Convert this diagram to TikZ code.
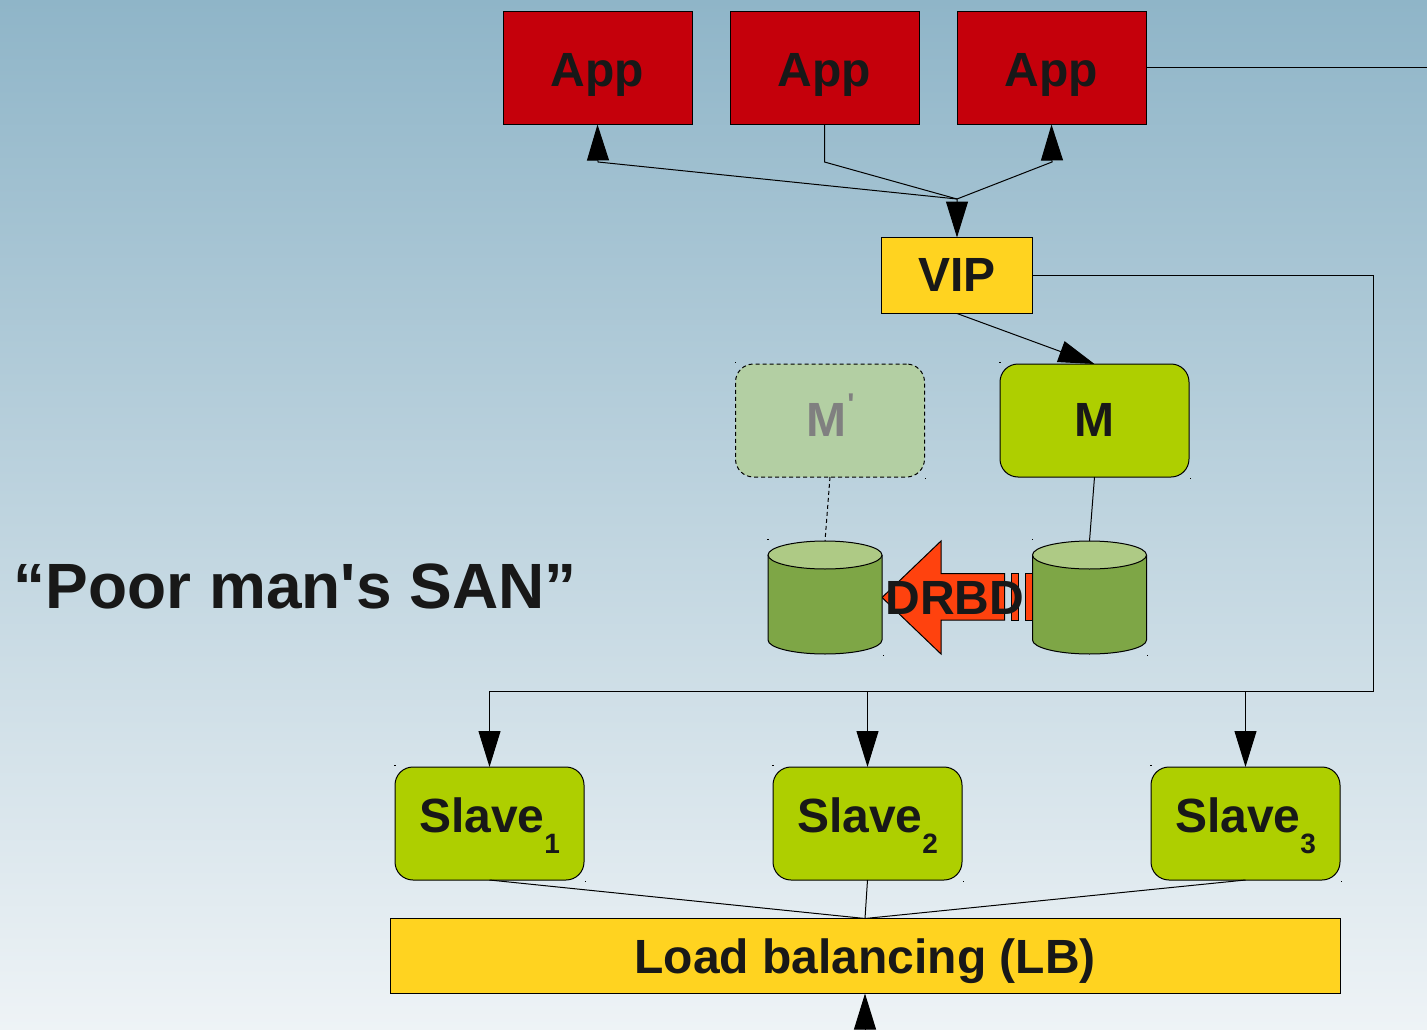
\documentclass[tikz,border=0pt]{standalone}
\usepackage{fontspec}
\usetikzlibrary{arrows.meta}
\newfontfamily\lblfont{Liberation Sans}
\definecolor{bgtop}{HTML}{8FB5C8}
\definecolor{bgbot}{HTML}{EEF3F6}
\definecolor{appred}{HTML}{C5000B}
\definecolor{gold}{HTML}{FFD320}
\definecolor{lime}{HTML}{AECF00}
\definecolor{ghost}{HTML}{B3CFA3}
\definecolor{cylbody}{HTML}{7EA646}
\definecolor{cyltop}{HTML}{AECA85}
\definecolor{flame}{HTML}{FF420E}
\definecolor{ink}{HTML}{181818}
\tikzset{
  x=1pt,y=-1pt,
  lw/.style={line width=1pt,draw=black},
  lbl/.style={font=\lblfont\bfseries\fontsize{#1}{#1}\selectfont,text=ink},
  boxbase/.style={lw,inner sep=0pt,outer sep=0pt,align=center},
  appbox/.style={boxbase,lbl=48,fill=appred,minimum width=189pt,minimum height=113pt,text height=47pt,text depth=10pt},
  vipbox/.style={boxbase,lbl=48,fill=gold,minimum width=151pt,minimum height=76pt,text height=41pt,text depth=10pt},
  lbbox/.style={boxbase,lbl=48,fill=gold,minimum width=950pt,minimum height=75pt,text height=44pt,text depth=10pt},
  dbnode/.style={boxbase,lbl=48,fill=lime,rounded corners=18pt,minimum width=189pt,minimum height=113pt,text height=42pt,text depth=10pt},
  slavebox/.style={boxbase,lbl=48,fill=lime,rounded corners=18pt,minimum width=189pt,minimum height=113pt,text height=28pt,text depth=10pt},
  ghostbox/.style={dbnode,fill=ghost,text=black!50,dash pattern=on 4pt off 3pt},
  cylbox/.style={inner sep=0pt,outer sep=0pt,minimum width=114pt,minimum height=113pt},
  conn/.style={lw},
  dashconn/.style={lw,dash pattern=on 4pt off 3pt},
  tip/.style={-{Triangle[length=36pt,width=22pt,black]}},
  title/.style={lbl=64,inner sep=0pt,anchor=base west},
  drbdtext/.style={lbl=48,inner sep=0pt,anchor=base},
}
\newcommand{\cornerdots}[1]{%
  \fill[black] ([xshift=-.6pt,yshift=.6pt]#1.north west) rectangle ++(1.2,-1.2);
  \fill[black] ([xshift=.6pt,yshift=-.6pt]#1.south east) rectangle ++(1.2,1.2);}
\newcommand{\drawcyl}[1]{%
  \draw[lw,fill=cylbody] (#1.north west) ++(0,14) -- ++(0,85)
    arc[start angle=180,end angle=360,x radius=57,y radius=-14]
    -- ++(0,-85);
  \draw[lw,fill=cyltop] (#1.north) ++(0,14) ellipse[x radius=57,y radius=14];
  \cornerdots{#1}}
\newcommand{\slavetext}[1]{Slave\raisebox{-21pt}{\fontsize{28}{28}\selectfont #1}}
\begin{document}
\begin{tikzpicture}
\path[use as bounding box,clip] (0,0) rectangle (1427,1030);
\shade[top color=bgtop,bottom color=bgbot] (0,0) rectangle (1427,1030);

% nodes
\node[appbox] (app1) at (597.5,68) {App};
\node[appbox] (app2) at (824.5,68) {App};
\node[appbox] (app3) at (1051.5,68) {App};
\node[vipbox] (vip) at (957,275.5) {VIP};
\node[ghostbox] (mprime) at (830,420.5) {\kern1pt M\kern1pt\raisebox{22pt}{\fontsize{30}{30}\selectfont '}};
\node[dbnode] (m) at (1094.5,420.5) {M};
\node[cylbox] (cyl1) at (825,597.5) {};
\node[cylbox] (cyl2) at (1089.5,597.5) {};
\node[slavebox] (s1) at (489.5,823.5) {\slavetext{1}};
\node[slavebox] (s2) at (867.5,823.5) {\slavetext{2}};
\node[slavebox] (s3) at (1245.5,823.5) {\slavetext{3}};
\node[lbbox] (lb) at (865,956) {Load balancing (LB)};

% free ends and bends
\coordinate (hub) at (957,199);
\coordinate (b1) at (598,162);
\coordinate (b2) at (824.5,162);
\coordinate (b3) at (1052,162);
\coordinate (out) at (1427,68);
\coordinate (busr) at (1373,275);
\coordinate (busb) at (1373,691);
\coordinate (lbin) at (865,1070);

% connectors
\draw[conn,tip] (app2.south) -- (b2) -- (hub) -- (vip.north);
\draw[conn,tip] (hub) -- (b1) -- (app1.south);
\draw[conn,tip] (hub) -- (b3) -- (app3.south);
\draw[conn] (app3.east) -- (out);
\draw[conn,tip] (vip.south) -- (m.north);
\draw[conn] (vip.east |- busr) -- (busr) -- (busb) -- (s1.north |- busb);
\draw[conn,tip] (s1.north |- busb) -- (s1.north);
\draw[conn,tip] (s2.north |- busb) -- (s2.north);
\draw[conn,tip] (s3.north |- busb) -- (s3.north);
\draw[conn] (m.south) -- (cyl2.north);
\draw[dashconn] (mprime.south) -- (cyl1.north);
\draw[conn] (s1.south) -- (lb.north);
\draw[conn] (s2.south) -- (lb.north);
\draw[conn] (s3.south) -- (lb.north);
\draw[conn,tip] (lbin) -- (lb.south);

% DRBD arrow
\draw[lw,fill=flame] (882,597.5) -- (941,541) -- (941,573.5) -- (1004.5,573.5) -- (1004.5,620) -- (941,620) -- (941,654) -- cycle;
\draw[lw,fill=flame] (1011.5,573.5) rectangle (1018.5,620);
\draw[lw,fill=flame] (1025,573.5) rectangle (1034,620);

\drawcyl{cyl1}
\drawcyl{cyl2}
\node[drbdtext] (drbd) at (955,614) {DRBD};

\foreach \n in {mprime,m,s1,s2,s3}{\cornerdots{\n}}

\node[title] (san) at (13.5,608) {“Poor man's SAN”};
\end{tikzpicture}
\end{document}
